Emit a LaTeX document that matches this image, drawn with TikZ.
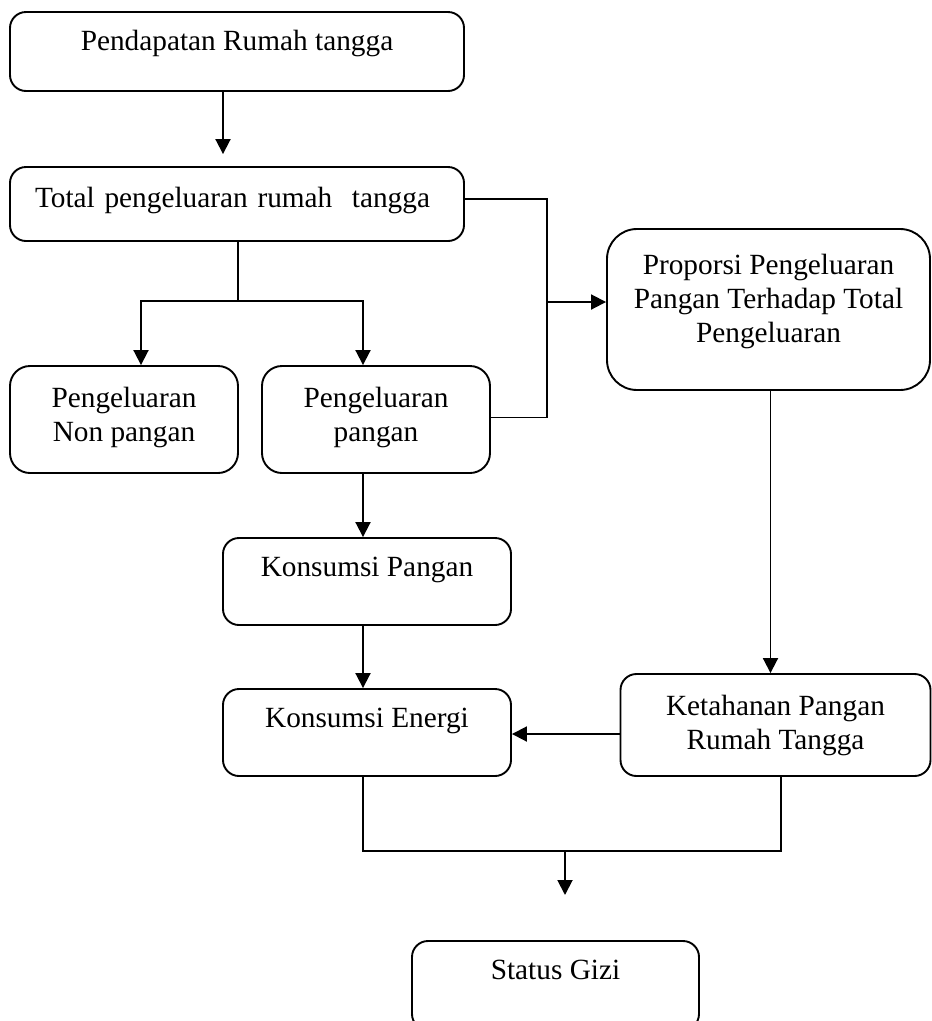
\documentclass[tikz,border=0pt]{standalone}
\usepackage{fontspec}
\setmainfont{Liberation Serif}
\usetikzlibrary{arrows.meta}

\begin{document}
\begin{tikzpicture}[x=1pt,y=-1pt]
  \tikzset{kotak/.style={draw,line width=1.9pt,rounded corners=16pt,align=center,inner sep=0pt,
                         font=\fontsize{29.3}{34}\selectfont},
           garis/.style={line width=1.9pt},
           panah/.style={garis,-{Triangle[length=15pt,width=15pt]}}}
  \useasboundingbox (0,0) rectangle (932,1021);
  \node [kotak,minimum width=454pt,minimum height=79pt,text depth=23pt] (pendapatan) at (237,51.5) {Pendapatan Rumah tangga};
  \node [kotak,minimum width=454pt,minimum height=74pt,text depth=14pt,align=left,
         text width=404pt,inner xsep=25pt] (total) at (237,204) {Total pengeluaran rumah\ \ tangga};
  \node [kotak,minimum width=228pt,minimum height=107pt,text depth=10pt,rounded corners=20pt] (nonpangan) at (124,419.5) {Pengeluaran\\Non pangan};
  \node [kotak,minimum width=228pt,minimum height=107pt,text depth=10pt,rounded corners=20pt] (pangan) at (376,419.5) {Pengeluaran\\pangan};
  \node [kotak,minimum width=323pt,minimum height=161pt,text depth=22pt,rounded corners=30pt] (proporsi) at (768.5,309.5) {Proporsi Pengeluaran\\Pangan Terhadap Total\\Pengeluaran};
  \node [kotak,minimum width=288pt,minimum height=87pt,text depth=30pt] (kpangan) at (367,581.5) {Konsumsi Pangan};
  \node [kotak,minimum width=288pt,minimum height=87pt,text depth=30pt] (kenergi) at (367,732.5) {Konsumsi Energi};
  \node [kotak,minimum width=310pt,minimum height=102pt] (ketahanan) at (775.5,725) {Ketahanan Pangan\\Rumah Tangga};
  \node [kotak,minimum width=287pt,minimum height=89pt,text depth=31pt] (gizi) at (555.5,985.5) {Status Gizi};
  % penghubung
  \draw[panah] ([xshift=-14pt]pendapatan.south) -- ([xshift=-14pt,yshift=12pt]total.north);
  \coordinate (cabang) at (238,301);
  \draw[garis] (total.south -| cabang) -- (cabang);
  \draw[panah] (cabang) -| ([xshift=17pt]nonpangan.north);
  \draw[panah] (cabang) -| ([xshift=-13pt]pangan.north);
  \coordinate (simpul) at (547,302);
  \draw[garis] ([yshift=5pt]total.east) -| (simpul) |- ([yshift=2pt]pangan.east);
  \draw[panah] (simpul) -- (simpul -| proporsi.west);
  \draw[panah] ([xshift=2pt]proporsi.south) -- ([xshift=2pt]proporsi.south |- ketahanan.north);
  \draw[panah] ([xshift=-13pt]pangan.south) -- ([xshift=-4pt]kpangan.north);
  \draw[panah] ([xshift=-4pt]kpangan.south) -- ([xshift=-4pt]kenergi.north);
  \draw[panah] ([yshift=-9pt]ketahanan.west) -- ([yshift=-9pt]ketahanan.west -| kenergi.east);
  \coordinate (gabung) at (565,851);
  \coordinate (ujung) at (565,895);
  \draw[garis] ([xshift=-4pt]kenergi.south) |- (gabung) -| ([xshift=5.5pt]ketahanan.south);
  \draw[panah] (gabung) -- (ujung);
\end{tikzpicture}
\end{document}
